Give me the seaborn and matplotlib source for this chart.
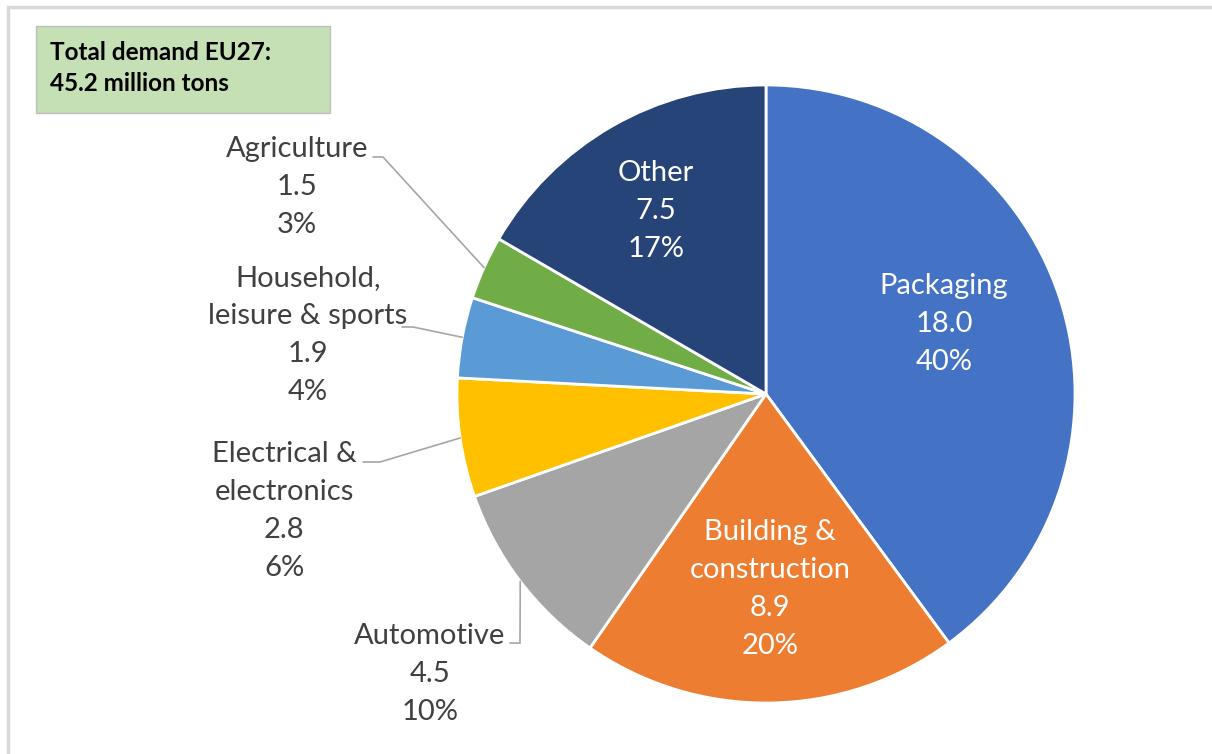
import numpy as np
import pandas as pd
import matplotlib
matplotlib.use("Agg")
from matplotlib import pyplot as plt
from matplotlib import patches as mpatches
import seaborn as sns

# data (million tons)
sectors = ['Packaging', 'Building &\nconstruction', 'Automotive', 'Electrical &\nelectronics',
           'Household,\nleisure & sports', 'Agriculture', 'Other']
demand = [18.0, 8.9, 4.5, 2.8, 1.9, 1.5, 7.5]
sector_colors = ['#4472C4', '#ED7D31', '#A5A5A5', '#FFC000', '#5B9BD5', '#70AD47', '#264478']
total_text = 'Total demand EU27:\n45.2 million tons'

df = pd.DataFrame({'sector': sectors, 'demand': demand})
df['share'] = df['demand'] / df['demand'].sum() * 100

sns.set_theme(style='white')
plt.rcParams['font.family'] = ['Lato', 'DejaVu Sans']

W, H = 1212, 754
fig = plt.figure(figsize=(W / 100, H / 100), dpi=100)
ax = fig.add_axes([0, 0, 1, 1])

def yd(y):
    # convert pixel-from-top to axis coords
    return H - y

cx, cy, r = 766, yd(394), 309
wedges, _ = ax.pie(df['demand'], colors=sns.color_palette(sector_colors), startangle=90,
                   counterclock=False, center=(cx, cy), radius=r, frame=True,
                   wedgeprops=dict(edgecolor='white', linewidth=2))
ax.set_xlim(0, W)
ax.set_ylim(0, H)
ax.set_aspect('equal')
ax.axis('off')

def label(i):
    return f"{df['sector'][i]}\n{df['demand'][i]:.1f}\n{df['share'][i]:.0f}%"

# inside labels (white)
inside = {0: (944, 324), 1: (770, 589), 6: (656, 211)}
for i, (x, y) in inside.items():
    ax.text(x, yd(y), label(i), ha='center', va='center', color='white',
            fontsize=21, linespacing=1.57)

# outside labels with leader lines: text centre, line start, elbow
outside = {
    5: ((297, 187), (373, 157), (383, 157)),
    4: ((308, 335), (402, 327), (413, 327)),
    3: ((284, 511), (363, 462), (380, 462)),
    2: ((430, 674), (510, 643), (520, 643)),
}
for i, (tpos, start, elbow) in outside.items():
    ax.text(tpos[0], yd(tpos[1]), label(i), ha='center', va='center', color='#404040',
            fontsize=21, linespacing=1.57)
    w = wedges[i]
    mid = np.deg2rad((w.theta1 + w.theta2) / 2)
    ex, ey = cx + r * np.cos(mid), cy + r * np.sin(mid)
    ax.plot([start[0], elbow[0], ex], [yd(start[1]), yd(elbow[1]), ey],
            color='#A6A6A6', lw=1.2, solid_joinstyle='miter')

# total demand box
ax.add_patch(mpatches.Rectangle((36, yd(113)), 294, 87, facecolor='#C5E0B4',
                                edgecolor='#BFBFBF', lw=1))
ax.text(50, yd(68), total_text, ha='left', va='center', color='black',
        fontsize=17.5, fontweight='bold', linespacing=1.39)

# chart frame
ax.add_patch(mpatches.Rectangle((8, -20), W + 20, yd(7) + 20, fill=False,
                                edgecolor='#D9D9D9', lw=2.5, clip_on=False))

fig.savefig('out.png', dpi=100)
